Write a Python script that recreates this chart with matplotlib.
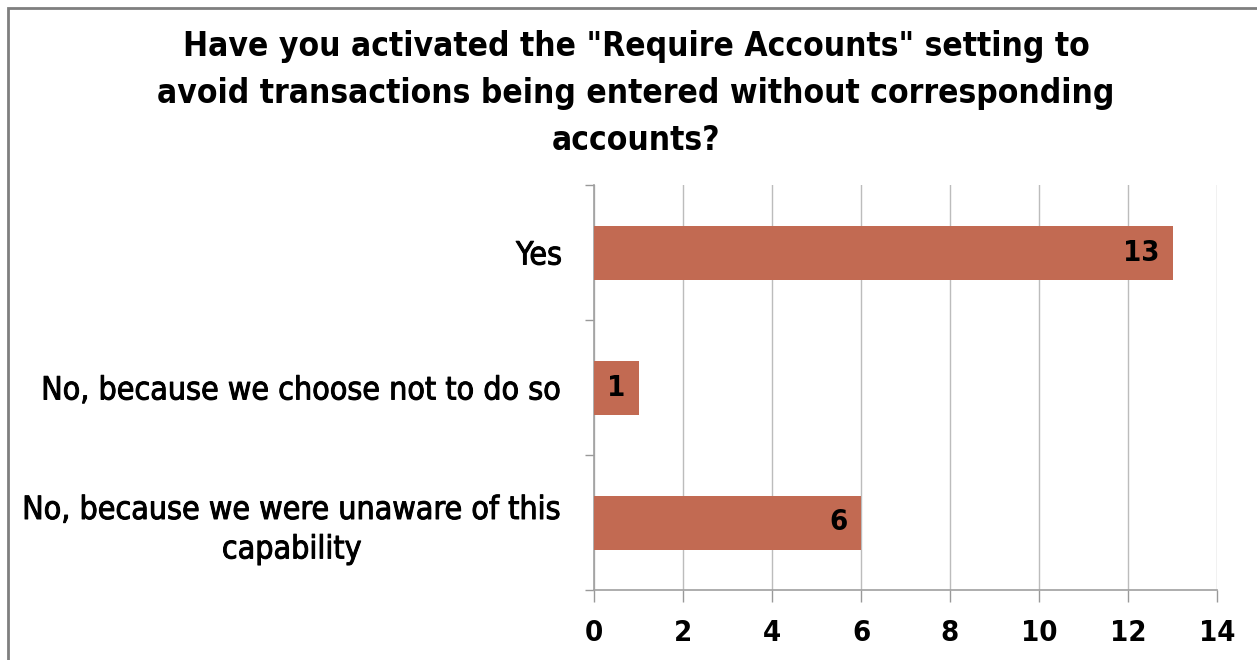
import matplotlib
matplotlib.use("Agg")
import matplotlib.pyplot as plt
import matplotlib.patheffects as pe
from matplotlib.patches import Rectangle

categories = ["Yes", "No, because we choose not to do so",
              "No, because we were unaware of this\ncapability"]
counts = [13, 1, 6]
x_ticks = [0, 2, 4, 6, 8, 10, 12, 14]
title = ('Have you activated the "Require Accounts" setting to\n'
         'avoid transactions being entered without corresponding\n'
         'accounts?')

FONT = dict(family="DejaVu Sans", stretch="condensed")
# slightly heavier strokes for the regular-weight category labels
HEAVY = [pe.withStroke(linewidth=0.7, foreground="black")]

fig = plt.figure(figsize=(12.57, 6.6), dpi=100)
fig.patch.set_facecolor("white")

# outer chart frame
fig.add_artist(Rectangle((8 / 1257, -0.1), 1.2, 1 - 8 / 660 + 0.1,
                         transform=fig.transFigure, fill=False,
                         edgecolor="#7f7f7f", linewidth=2))

ax = fig.add_axes([594 / 1257, 1 - 590 / 660, (1217 - 594) / 1257, (590 - 185) / 660])

y = list(range(len(categories)))
bars = ax.barh(y, counts, height=0.4, color="#C26A52", zorder=3)
ax.set_ylim(len(categories) - 0.5, -0.5)
ax.set_xlim(0, 14)
ax.set_xticks(x_ticks)
ax.set_xticklabels([str(t) for t in x_ticks], fontsize=21, fontweight="bold", **FONT)
ax.set_yticks(y)
ax.set_yticklabels(categories, fontsize=23, linespacing=1.35,
                   multialignment="center", **FONT)
for lbl in ax.get_yticklabels():
    lbl.set_path_effects(HEAVY)
ax.set_yticks([i - 0.5 for i in range(len(categories) + 1)], minor=True)

ax.tick_params(axis="y", which="major", length=0, pad=23)
ax.tick_params(axis="y", which="minor", length=6.5, color="#999999", width=1)
ax.tick_params(axis="x", length=8.6, color="#999999", width=1, pad=12)

ax.grid(axis="x", color="#bcbcbc", linewidth=1, zorder=0)
for s in ("top", "right"):
    ax.spines[s].set_visible(False)
for s in ("left", "bottom"):
    ax.spines[s].set_color("#a0a0a0")
    ax.spines[s].set_linewidth(1.2)

for rect, v in zip(bars, counts):
    ax.text(rect.get_width() - 0.3, rect.get_y() + rect.get_height() / 2, str(v),
            ha="right", va="center", fontsize=21, fontweight="bold",
            color="black", zorder=4, **FONT)

fig.text(0.506, 1 - 30 / 660, title, ha="center", va="top", fontsize=24,
         fontweight="bold", linespacing=1.53, **FONT)

fig.savefig("out.png", dpi=100, facecolor="white")
